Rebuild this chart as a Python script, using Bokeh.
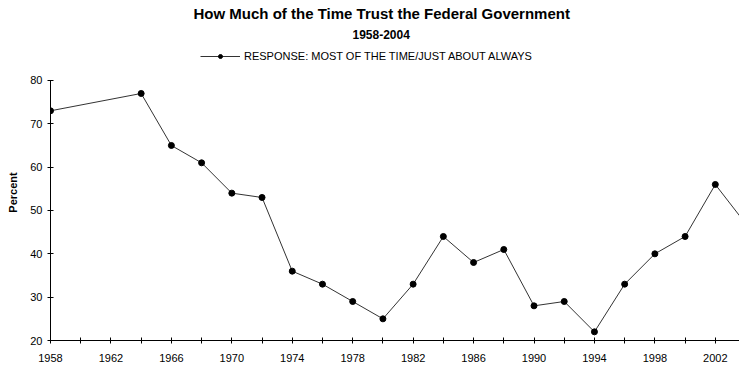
from bokeh.plotting import figure
from bokeh.models import (FixedTicker, Title, Legend, LegendItem, Range1d, ColumnDataSource)
from bokeh.embed import file_html
from bokeh.resources import INLINE

years = [1958, 1964, 1966, 1968, 1970, 1972, 1974, 1976, 1978, 1980, 1982, 1984,
         1986, 1988, 1990, 1992, 1994, 1996, 1998, 2000, 2002, 2004]
trust = [73, 77, 65, 61, 54, 53, 36, 33, 29, 25, 33, 44,
         38, 41, 28, 29, 22, 33, 40, 44, 56, 47]
major_years = list(range(1958, 2003, 4))
minor_years = list(range(1960, 2004, 4))
y_ticks = [20, 30, 40, 50, 60, 70, 80]

title_text = "How Much of the Time Trust the Federal Government"
subtitle_text = "1958-2004"
series_label = "RESPONSE: MOST OF THE TIME/JUST ABOUT ALWAYS"

FONT = "Liberation Sans"

# frame extends above 80 to host the legend; the y axis itself is bounded to 20-80
p = figure(width=739, height=370, output_backend="svg", toolbar_location=None,
           x_range=Range1d(1958, 2003.6), y_range=Range1d(20, 88.3),
           min_border_left=50, min_border_right=0, min_border_bottom=30,
           min_border_top=44)
p.outline_line_color = None
p.xgrid.grid_line_color = None
p.ygrid.grid_line_color = None
p.background_fill_color = "white"
p.border_fill_color = "white"

src = ColumnDataSource(dict(x=years, y=trust))
ln = p.line("x", "y", source=src, line_color="#333333", line_width=1)
pts = p.scatter("x", "y", source=src, size=6, fill_color="black", line_color="black")

xa = p.xaxis[0]
xa.ticker = FixedTicker(ticks=major_years, minor_ticks=minor_years)
xa.major_tick_in = 3
xa.major_tick_out = 3
xa.minor_tick_in = 3
xa.minor_tick_out = 3
xa.axis_line_color = "black"
xa.major_tick_line_color = "black"
xa.minor_tick_line_color = "black"
xa.major_label_text_font = FONT
xa.major_label_text_font_size = "11px"
xa.major_label_text_color = "black"
xa.major_label_standoff = 10

ya = p.yaxis[0]
ya.bounds = (20, 80)
ya.ticker = FixedTicker(ticks=y_ticks, minor_ticks=[])
ya.major_tick_in = 3
ya.major_tick_out = 3
ya.minor_tick_line_color = None
ya.axis_line_color = "black"
ya.major_tick_line_color = "black"
ya.major_label_text_font = FONT
ya.major_label_text_font_size = "11px"
ya.major_label_text_color = "black"
ya.major_label_standoff = 5
ya.axis_label = "Percent"
ya.axis_label_text_font = FONT
ya.axis_label_text_font_style = "bold"
ya.axis_label_text_font_size = "11px"
ya.axis_label_text_color = "black"
ya.axis_label_standoff = 8

legend = Legend(items=[LegendItem(label=series_label, renderers=[ln, pts])],
                orientation="horizontal", location=(150, 278),
                label_text_font=FONT, label_text_font_size="11px",
                label_text_color="black",
                glyph_width=40, glyph_height=10, padding=2, margin=0,
                border_line_color=None, background_fill_alpha=0,
                label_standoff=4)
p.add_layout(legend)

p.add_layout(Title(text=subtitle_text, align="left", text_font=FONT,
                   text_font_style="bold", text_font_size="12px",
                   text_color="black", offset=302, standoff=12), "above")
p.add_layout(Title(text=title_text, align="left", text_font=FONT,
                   text_font_style="bold", text_font_size="15px",
                   text_color="black", offset=143, standoff=0), "above")

open("out.html", "w").write(file_html(p, INLINE))
